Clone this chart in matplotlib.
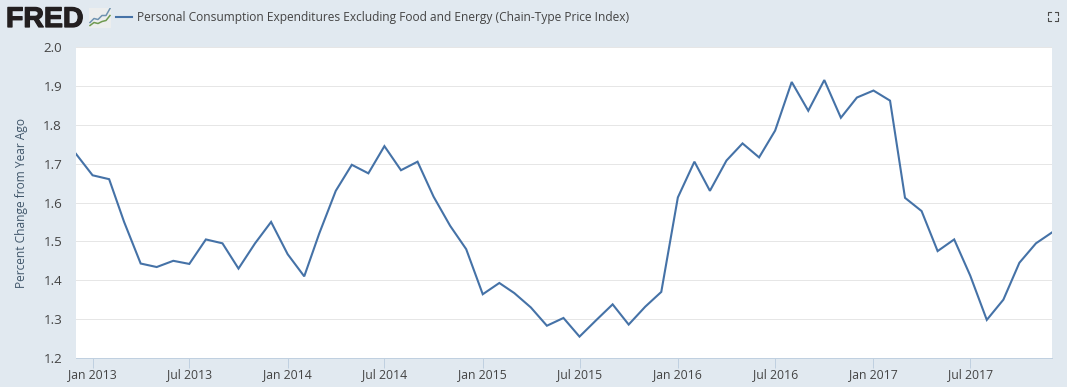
import pandas as pd
import matplotlib
matplotlib.use("Agg")
import matplotlib.pyplot as plt
import matplotlib.dates as mdates
import matplotlib.patheffects as pe

plt.rcParams['font.family'] = ['Open Sans', 'DejaVu Sans']

W, H = 1067, 387

# monthly, Dec 2012 to Dec 2017
values = [1.725,
          1.670, 1.660, 1.550, 1.443, 1.434, 1.450, 1.442, 1.505, 1.495, 1.430, 1.495, 1.550,
          1.467, 1.410, 1.520, 1.630, 1.697, 1.675, 1.745, 1.683, 1.705, 1.615, 1.540, 1.480,
          1.364, 1.393, 1.367, 1.330, 1.283, 1.303, 1.255, 1.297, 1.338, 1.286, 1.332, 1.370,
          1.613, 1.705, 1.630, 1.708, 1.752, 1.716, 1.785, 1.910, 1.836, 1.915, 1.818, 1.870,
          1.888, 1.862, 1.612, 1.578, 1.475, 1.505, 1.412, 1.298, 1.350, 1.445, 1.495, 1.523]
dates = pd.date_range('2012-12-01', periods=len(values), freq='MS')
y_ticks = [1.2, 1.3, 1.4, 1.5, 1.6, 1.7, 1.8, 1.9, 2.0]
x_ticks = pd.to_datetime(['2013-01-01', '2013-07-01', '2014-01-01', '2014-07-01', '2015-01-01',
                          '2015-07-01', '2016-01-01', '2016-07-01', '2017-01-01', '2017-07-01'])
series_name = 'Personal Consumption Expenditures Excluding Food and Energy (Chain-Type Price Index)'

# little chart in the logo
icon_blue = [0.25, 0.45, 0.40, 0.60, 0.60, 0.95]
icon_green = [0.10, 0.25, 0.20, 0.30, 0.35, 0.60]

bg = '#e1e9f0'
line_color = '#4572a7'
text_color = '#444444'
tick_color = '#c0d0e0'

fig = plt.figure(figsize=(W / 100, H / 100), dpi=100, facecolor=bg)
ax = fig.add_axes([76 / W, 1 - 358 / H, (1052 - 76) / W, (358 - 47) / H])
ax.plot(dates, values, color=line_color, lw=1.5, solid_joinstyle='miter')

ax.set_xlim(dates[0], dates[-1])
ax.set_ylim(1.2, 2.0)
ax.set_yticks(y_ticks)
ax.set_yticklabels([f'{v:.1f}' for v in y_ticks])
ax.set_xticks(x_ticks)
ax.xaxis.set_major_formatter(mdates.DateFormatter('%b %Y'))
ax.grid(True, axis='y', color='#e6e6e6', lw=0.72)
ax.set_axisbelow(True)
for side in ['top', 'right', 'left']:
    ax.spines[side].set_visible(False)
ax.spines['bottom'].set_color(tick_color)
ax.spines['bottom'].set_linewidth(0.72)
ax.tick_params(axis='x', length=7, width=0.72, color=tick_color, labelsize=8.8, labelcolor=text_color, pad=0.5)
ax.tick_params(axis='y', length=0, labelsize=9.6, labelcolor=text_color, pad=10)
ax.set_ylabel('Percent Change from Year Ago', fontsize=8.6, color='#40566a', labelpad=11)

# header: logo, legend key, series name
fig.text(6 / W, 1 - 27 / H, 'FRED', fontsize=20.5, fontweight='bold', family=['Liberation Sans', 'DejaVu Sans'],
         color='#231f20', va='baseline', ha='left',
         path_effects=[pe.withStroke(linewidth=0.9, foreground='#231f20')])
icon = fig.add_axes([89 / W, 1 - 27.5 / H, 22 / W, 20 / H], facecolor='#eceeee')
icon.plot(icon_blue, color='#6f93b0', lw=1.1)
icon.plot(icon_green, color='#6f9a50', lw=1.1)
icon.set_ylim(0, 1)
icon.set_xticks([])
icon.set_yticks([])
for s in icon.spines.values():
    s.set_visible(False)

fig.add_artist(plt.Line2D([116 / W, 132 / W], [1 - 17 / H, 1 - 17 / H], color=line_color, lw=1.5))
fig.text(137 / W, 1 - 17.5 / H, series_name, fontsize=8.65, color=text_color, va='center', ha='left')

# fullscreen icon in the corner, no font has it
left, right, top, bottom = 1047.5, 1058, 11.5, 20.5
arm = 3
corners = [(left, top, 1, 1), (right, top, -1, 1), (left, bottom, 1, -1), (right, bottom, -1, -1)]
for cx, cy, dx, dy in corners:
    fig.add_artist(plt.Line2D([(cx + dx * arm) / W, cx / W, cx / W],
                              [1 - cy / H, 1 - cy / H, 1 - (cy + dy * arm) / H],
                              color='#4a4a4a', lw=0.8))

fig.savefig('out.png', dpi=100, facecolor=bg)
